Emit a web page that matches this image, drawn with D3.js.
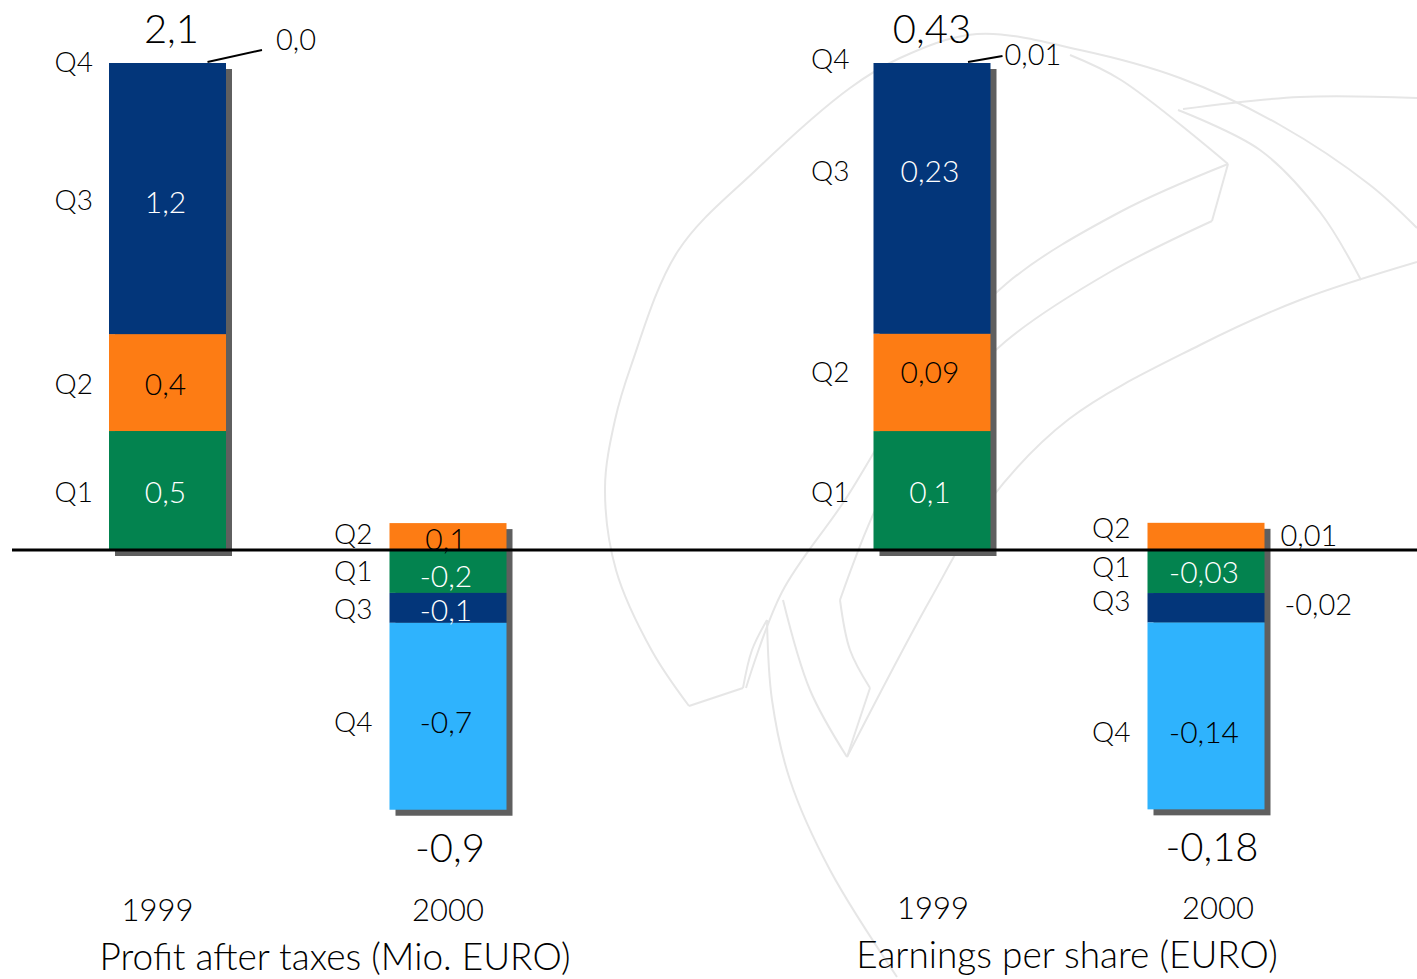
<!DOCTYPE html>
<html>
<head>
<meta charset="utf-8">
<script src="https://cdn.jsdelivr.net/npm/d3@7"></script>
<style>
  html, body { margin: 0; padding: 0; background: #ffffff; }
  svg { display: block; }
  text { font-family: "Lato", "Open Sans", sans-serif; font-weight: 300; }
</style>
</head>
<body>
<svg id="chart" width="1417" height="979"></svg>
<script>
// ---------------- data ----------------
const quarters = ["Q1", "Q2", "Q3", "Q4"];
const years = ["1999", "2000"];

const profit1999 = [0.513, 0.418, 1.169, 0.0];
const profit2000 = [-0.185, 0.116, -0.129, -0.806];
const profitLabels1999 = ["0,5", "0,4", "1,2", "0,0"];
const profitLabels2000 = ["-0,2", "0,1", "-0,1", "-0,7"];
const profitTotals = ["2,1", "-0,9"];
const profitTitle = "Profit after taxes (Mio. EURO)";

const eps1999 = [0.105, 0.086, 0.239, 0.0];
const eps2000 = [-0.038, 0.024, -0.026, -0.165];
const epsLabels1999 = ["0,1", "0,09", "0,23", "0,01"];
const epsLabels2000 = ["-0,03", "0,01", "-0,02", "-0,14"];
const epsTotals = ["0,43", "-0,18"];
const epsTitle = "Earnings per share (EURO)";

// ---------------- style ----------------
const colors = { Q1: "#03834f", Q2: "#fd7c14", Q3: "#03367a", Q4: "#2fb3fd" };
const textOn = { Q1: "#ffffff", Q2: "#000000", Q3: "#ffffff", Q4: "#000000" };
const shadowColor = "#5f5f5f";

const svg = d3.select("#chart");

// ---------------- watermark ----------------
const wm = svg.append("g").attr("fill", "none").attr("stroke", "#e6e6e6").attr("stroke-width", 2);
const wmLine = d3.line().curve(d3.curveCatmullRom.alpha(0.5));
const wmPaths = [
  [[689,706],[652,651],[616,570],[605,488],[615,420],[631,366],[678,251],[756,170],[850,88],[900,58],[977,34],[1080,50],[1180,78],[1280,125],[1370,185],[1417,228]],
  [[1183,109],[1300,97],[1417,98]],
  [[1178,110],[1260,150],[1320,212],[1361,280]],
  [[1070,55],[1121,80],[1228,164]],
  [[1228,164],[1212,221]],
  [[1228,164],[1120,212],[1006,284],[920,380],[845,500],[782,592],[746,688]],
  [[1212,221],[1110,272],[1006,341],[930,420],[880,500],[840,600]],
  [[1417,262],[1300,300],[1200,345],[1069,419],[990,500],[930,600],[847,757]],
  [[847,757],[870,688]],
  [[840,600],[850,650],[870,688]],
  [[783,600],[810,690],[847,757]],
  [[767,620],[772,700],[790,780],[830,870],[897,977]],
  [[689,706],[743,688]],
  [[743,688],[752,650],[767,620]]
];
wmPaths.forEach(p => wm.append("path").attr("d", wmLine(p)));

// ---------------- panels ----------------
const zeroY = 550, topY = 63, barW = 117, shadowOff = 6;

const panels = [
  { vals: [profit1999, profit2000], labels: [profitLabels1999, profitLabels2000], totals: profitTotals,
    title: profitTitle, max: 2.1, centers: [167.5, 448], titleX: 335, titleY: 970,
    qGap: [16, 17], leader: { dx1: 40, dx2: 36, dy2: -13, tdx: 14, tdy: -12 },
    totalDx: [4, 2], yearDx: [-10, 0], yearY: 921,
    outside: [[false,false,false,true],[false,false,false,false]],
    qNudge: [[0,0,0,-2],[-1,-4,0,5]], vNudge: [[0,0,2,0],[4,1,1,5]] },
  { vals: [eps1999, eps2000], labels: [epsLabels1999, epsLabels2000], totals: epsTotals,
    title: epsTitle, max: 0.43, centers: [932, 1206], titleX: 1067, titleY: 968,
    qGap: [24, 17], leader: { dx1: 36, dx2: 12, dy2: -7, tdx: 2, tdy: -3 },
    totalDx: [0, 6], yearDx: [1, 12], yearY: 919,
    outside: [[false,false,false,true],[false,true,true,false]],
    qNudge: [[0,-11,-28,-5],[-6,-9,-8,15]], vNudge: [[0,-11,-28,0],[-1,0,0,15]] }
];

panels.forEach(p => {
  const y = d3.scaleLinear().domain([0, p.max]).range([zeroY, topY]);
  const x = d3.scaleOrdinal().domain(years).range(p.centers);
  const g = svg.append("g");

  const rows = years.map((yr, i) => {
    const r = { year: yr };
    quarters.forEach((q, j) => r[q] = p.vals[i][j]);
    return r;
  });
  const series = d3.stack().keys(quarters).offset(d3.stackOffsetDiverging)(rows);
  // zero-valued segments sit on top of the positive stack
  years.forEach((yr, i) => {
    let top = 0;
    series.forEach(s => { if (s[i][1] > top) top = s[i][1]; });
    series.forEach(s => { if (s[i][1] === s[i][0]) { s[i][0] = top; s[i][1] = top; } });
  });

  // shadows
  years.forEach((yr, i) => {
    const lo = d3.min(series, s => s[i][0]);
    const hi = d3.max(series, s => s[i][1]);
    g.append("rect")
      .attr("x", x(yr) - barW / 2 + shadowOff)
      .attr("y", y(hi) + shadowOff)
      .attr("width", barW)
      .attr("height", y(lo) - y(hi))
      .attr("fill", shadowColor);
  });

  // segments
  series.forEach(s => {
    g.selectAll(null).data(s).join("rect")
      .attr("x", d => x(d.data.year) - barW / 2)
      .attr("y", d => y(Math.max(d[0], d[1])))
      .attr("width", barW)
      .attr("height", d => Math.abs(y(d[0]) - y(d[1])))
      .attr("fill", colors[s.key]);
  });

  // labels
  series.forEach((s, j) => {
    s.forEach((d, i) => {
      const yr = years[i];
      const mid = (y(d[0]) + y(d[1])) / 2;
      const left = x(yr) - barW / 2;
      const right = x(yr) + barW / 2;
      g.append("text")
        .attr("x", left - p.qGap[i])
        .attr("y", mid + p.qNudge[i][j])
        .attr("text-anchor", "end")
        .attr("dominant-baseline", "central")
        .attr("font-size", 28)
        .attr("fill", "#000")
        .text(s.key);
      const lbl = p.labels[i][j];
      if (p.outside[i][j]) {
        if (i === 0) {
          const L = p.leader;
          const ly = y(d[1]);
          const x2 = right + L.dx2;
          const y2 = ly + L.dy2;
          g.append("line").attr("x1", x(yr) + L.dx1).attr("y1", ly - 1).attr("x2", x2).attr("y2", y2)
            .attr("stroke", "#000").attr("stroke-width", 2);
          g.append("text")
            .attr("x", x2 + L.tdx)
            .attr("y", y2 + L.tdy)
            .attr("dominant-baseline", "central")
            .attr("font-size", 29)
            .text(lbl);
        } else {
          g.append("text")
            .attr("x", right + 16 + (s.key === "Q3" ? 4 : 0))
            .attr("y", s.key === "Q2" ? mid - 2 : mid - 4)
            .attr("dominant-baseline", "central")
            .attr("font-size", 29)
            .text(lbl);
        }
      } else {
        g.append("text")
          .attr("x", x(yr) - 2)
          .attr("y", mid + p.vNudge[i][j])
          .attr("text-anchor", "middle")
          .attr("dominant-baseline", "central")
          .attr("font-size", 30)
          .attr("fill", textOn[s.key])
          .text(lbl);
      }
    });
  });

  // totals and year labels
  years.forEach((yr, i) => {
    const lo = d3.min(series, s => s[i][0]);
    const hi = d3.max(series, s => s[i][1]);
    const isTop = i === 0;
    g.append("text")
      .attr("x", x(yr) + p.totalDx[i])
      .attr("y", isTop ? y(hi) - 35 : y(lo) + 37)
      .attr("text-anchor", "middle")
      .attr("dominant-baseline", "central")
      .attr("font-size", 40)
      .text(p.totals[i]);
    g.append("text")
      .attr("x", x(yr) + p.yearDx[i])
      .attr("y", p.yearY)
      .attr("text-anchor", "middle")
      .attr("font-size", 31)
      .text(yr);
  });

  g.append("text")
    .attr("x", p.titleX)
    .attr("y", p.titleY)
    .attr("text-anchor", "middle")
    .attr("font-size", 37)
    .text(p.title);
});

// zero line
svg.append("line")
  .attr("x1", 12).attr("x2", 1417)
  .attr("y1", zeroY).attr("y2", zeroY)
  .attr("stroke", "#000").attr("stroke-width", 3);
</script>
</body>
</html>
